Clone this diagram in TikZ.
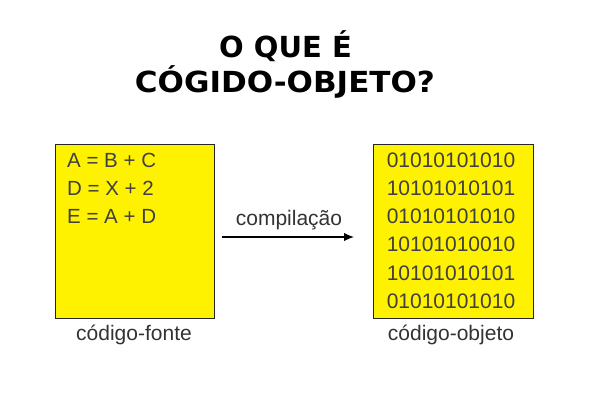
\documentclass[tikz,border=0pt]{standalone}
\usepackage{fontspec}
\setmainfont{Liberation Sans}
\newfontfamily\titlefont{DejaVu Sans}
\usetikzlibrary{arrows.meta}

\begin{document}
\begin{tikzpicture}[x=1pt,y=-1pt]
\tikzstyle{every node}+=[inner sep=0pt]
\tikzstyle{codebox}=[draw=black!85,line width=0.9pt,fill=yellow]
\tikzstyle{codeline}=[anchor=base west,text=black!75,font=\fontsize{20.5}{21}\selectfont]
\tikzstyle{bitline}=[anchor=base,text=black!75,font=\fontsize{21}{21}\selectfont]
\tikzstyle{caption}=[anchor=base,text=black!80,font=\fontsize{21}{21}\selectfont]
\tikzstyle{headline}=[anchor=base,font=\titlefont\bfseries\fontsize{29}{29}\selectfont]
\useasboundingbox [fill=white] (0,0) rectangle (600,400);
% title
\node [headline] (title1) at (285.5,57) {O QUE É};
\node [headline,xscale=1.07] (title2) at (285,92) {CÓGIDO-OBJETO?};
% source code
\draw [codebox] (55,144) rectangle (214,318);
\node [codeline] (lineA) at (67,167) {A = B + C};
\node [codeline] (lineD) at (67,195) {D = X + 2};
\node [codeline] (lineE) at (67,223) {E = A + D};
\node [caption] (fonte) at (134,340) {código-fonte};
% object code
\draw [codebox] (373,144) rectangle (533,318);
\foreach \bits [count=\i] in {01010101010,10101010101,01010101010,10101010010,10101010101,01010101010}
  \node [bitline] (bits\i) at (451,139+28.2*\i) {\bits};
\node [caption] (objeto) at (451,340) {código-objeto};
% compilation
\coordinate (from) at (222,237);
\coordinate (to) at (354,237);
\draw [black,line width=1.3pt,-{Latex[length=10pt,width=8.5pt]}] (from) -- (to);
\node [caption] (compila) at (289,225) {compilação};
\end{tikzpicture}
\end{document}
